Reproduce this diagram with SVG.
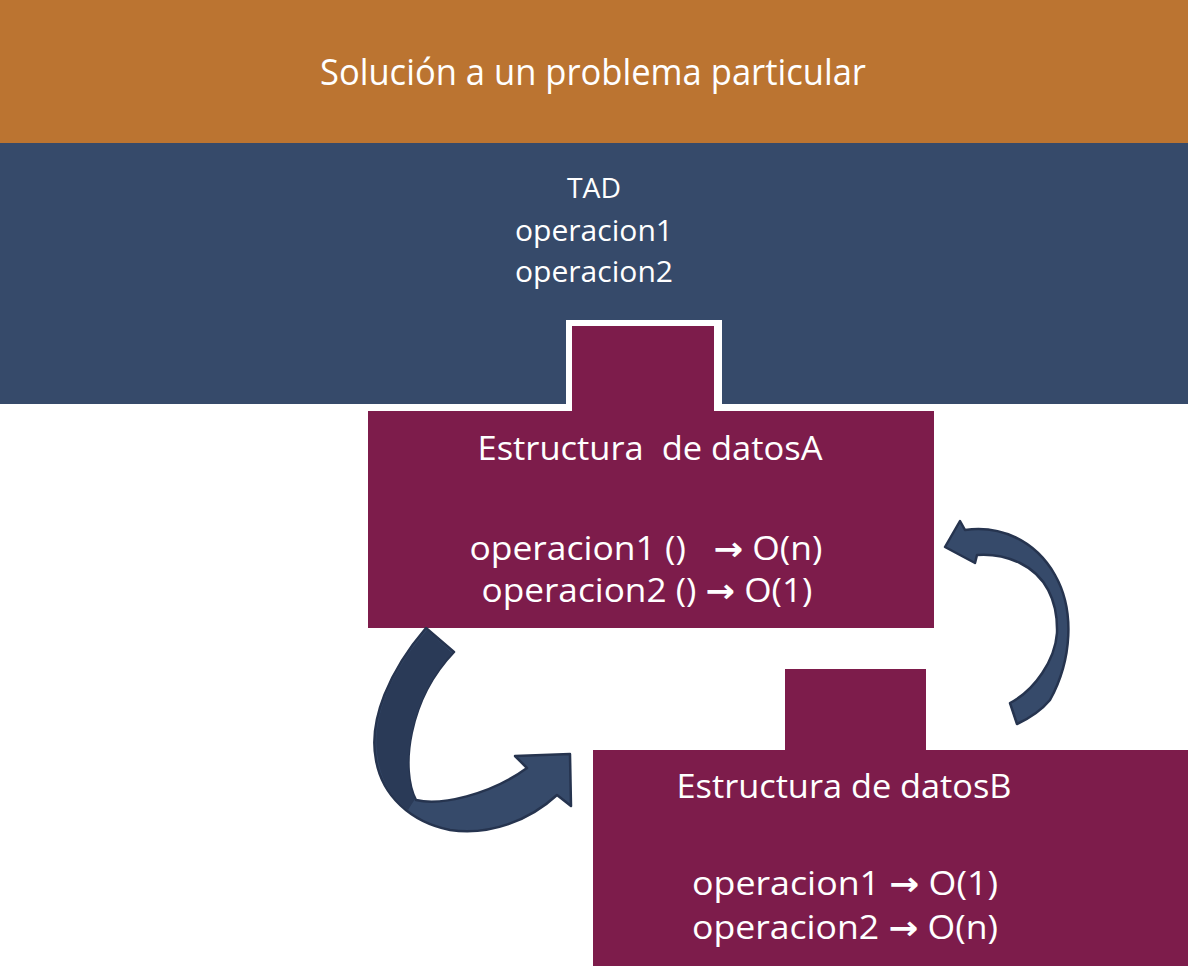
<svg xmlns="http://www.w3.org/2000/svg" width="1188" height="966" viewBox="0 0 1188 966">
<style>
.t{font-family:"Open Sans","Liberation Sans",Arial,sans-serif;fill:#ffffff;white-space:pre;}
.ar{font-family:"DejaVu Sans",sans-serif;font-weight:bold;}
.purple{fill:#7D1C4B;}
.arrow{fill:#364A6A;stroke:#26344F;stroke-width:2.5;stroke-linejoin:round;}
.arrowDark{fill:#2A3A57;stroke:none;}
</style>
<rect x="0" y="0" width="1188" height="966" fill="#ffffff"/>
<g id="problema">
<rect x="0" y="0" width="1188" height="143" fill="#BB7431"/>
<text class="t" x="593" y="85" font-size="37" text-anchor="middle" textLength="546" lengthAdjust="spacingAndGlyphs">Solución a un problema particular</text>
</g>
<g id="tad">
<rect x="0" y="143" width="1188" height="261" fill="#364A6A"/>
<text class="t" x="594" y="198" font-size="27" text-anchor="middle" textLength="54" lengthAdjust="spacingAndGlyphs">TAD</text>
<text class="t" x="594" y="241" font-size="29" text-anchor="middle" textLength="158" lengthAdjust="spacingAndGlyphs">operacion1</text>
<text class="t" x="594" y="282" font-size="29" text-anchor="middle" textLength="158" lengthAdjust="spacingAndGlyphs">operacion2</text>
</g>
<g id="estructuraA">
<rect x="566" y="320" width="156" height="91" fill="#ffffff"/>
<rect class="purple" x="572" y="326" width="142" height="90"/>
<rect class="purple" x="368" y="411" width="566" height="217"/>
<text class="t" x="650" y="460" font-size="32" text-anchor="middle" textLength="345" lengthAdjust="spacingAndGlyphs">Estructura  de datosA</text>
<text class="t" x="646" y="560" font-size="33" text-anchor="middle" textLength="353" lengthAdjust="spacingAndGlyphs">operacion1 ()   <tspan class="ar">→</tspan> O(n)</text>
<text class="t" x="647" y="602" font-size="33" text-anchor="middle" textLength="331" lengthAdjust="spacingAndGlyphs">operacion2 () <tspan class="ar">→</tspan> O(1)</text>
</g>
<g id="estructuraB">
<rect class="purple" x="785" y="669" width="141" height="85"/>
<rect class="purple" x="593" y="750" width="600" height="216"/>
<text class="t" x="844" y="798" font-size="32" text-anchor="middle" textLength="335" lengthAdjust="spacingAndGlyphs">Estructura de datosB</text>
<text class="t" x="845" y="895" font-size="33" text-anchor="middle" textLength="306" lengthAdjust="spacingAndGlyphs">operacion1 <tspan class="ar">→</tspan> O(1)</text>
<text class="t" x="845" y="939" font-size="33" text-anchor="middle" textLength="306" lengthAdjust="spacingAndGlyphs">operacion2 <tspan class="ar">→</tspan> O(n)</text>
</g>
<g id="connectors">
<path class="arrow" d="M 426,628 C 390,670 368,720 376,760 C 382,795 410,822 450,830 C 490,836 530,820 557,795 L 571,806 L 570,754 L 515,756 L 527,768 C 490,795 440,806 416,800 C 400,770 408,700 454,652 Z"/>
<path class="arrowDark" d="M 427,630 C 391,671 370,720 378,760 C 382,783 392,798 408,810 L 415,799 C 401,770 409,700 452,653 Z"/>
<path class="arrow" d="M 1010,703 C 1035,690 1055,660 1057,633 C 1058,600 1045,575 1020,563 C 1005,556 990,554 977,555 L 975,563 L 945,547 L 960,521 L 965,530 C 1000,525 1035,540 1055,575 C 1075,610 1072,660 1050,700 C 1040,712 1030,718 1017,724 Z"/>
</g>
</svg>
